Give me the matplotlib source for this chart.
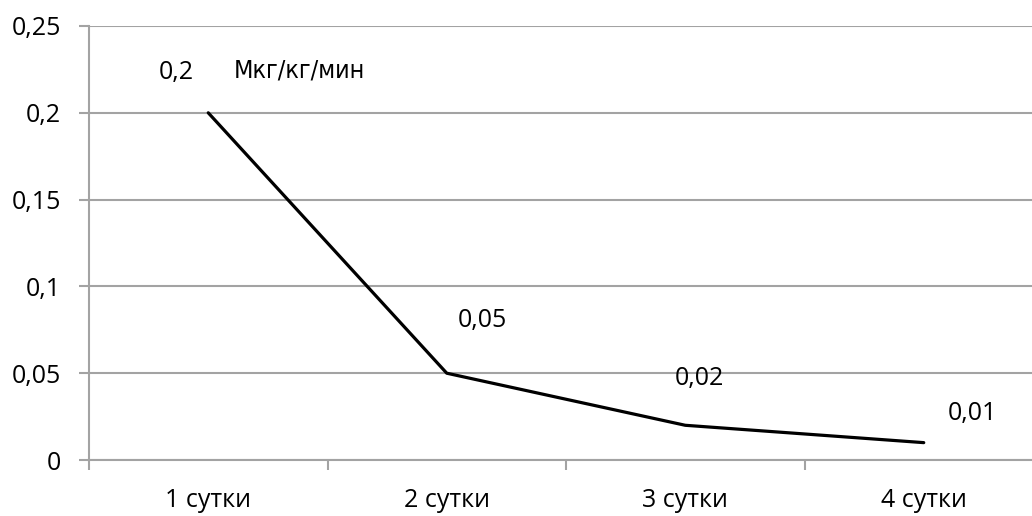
import matplotlib
matplotlib.use("Agg")
import matplotlib.pyplot as plt

# data
categories = ["1 сутки", "2 сутки", "3 сутки", "4 сутки"]
values = [0.2, 0.05, 0.02, 0.01]
value_labels = ["0,2", "0,05", "0,02", "0,01"]
y_ticks = [0, 0.05, 0.1, 0.15, 0.2, 0.25]
y_tick_labels = ["0", "0,05", "0,1", "0,15", "0,2", "0,25"]
unit_label = "Мкг/кг/мин"

# label offsets in points (dx, dy)
label_offsets = [(-23, 29), (26, 38), (10, 34), (35, 21)]

plt.rcParams['font.family'] = ['Open Sans', 'DejaVu Sans']
fs = 18

fig = plt.figure(figsize=(10.32, 5.16), dpi=100)
# plot area runs off the right edge like the original
ax = fig.add_axes([89 / 1032, 56 / 516, 954 / 1032, 434 / 516])

grid_color = "#a3a3a3"
x = list(range(len(categories)))
ax.plot(x, values, color="black", linewidth=2.3, solid_capstyle="round")

for xi, v, lab, (dx, dy) in zip(x, values, value_labels, label_offsets):
    ax.annotate(lab, (xi, v), xytext=(dx, dy), textcoords="offset points",
                ha="center", va="center", fontsize=fs)

ax.set_xlim(-0.5, len(categories) - 0.5)
ax.set_ylim(0, 0.25)
ax.set_yticks(y_ticks)
ax.set_yticklabels(y_tick_labels, fontsize=fs)
ax.set_xticks(x)
ax.set_xticklabels(categories, fontsize=fs)
ax.tick_params(axis="x", length=0, pad=20)
ax.set_xticks([i - 0.5 for i in range(len(categories) + 1)], minor=True)
ax.tick_params(axis="x", which="minor", length=7, width=1.5, color=grid_color)
ax.tick_params(axis="y", length=7, width=1.5, color=grid_color, pad=13)

ax.grid(axis="y", color=grid_color, linewidth=1.5)
ax.set_axisbelow(True)
for side in ["top", "right"]:
    ax.spines[side].set_visible(False)
for side in ["left", "bottom"]:
    ax.spines[side].set_color(grid_color)
    ax.spines[side].set_linewidth(1.5)

ax.text(0.221, 0.897, unit_label, transform=ax.transAxes, ha="center", va="center",
        fontsize=18, family="DejaVu Sans", fontstretch="condensed")

fig.savefig("out.png", dpi=100)
